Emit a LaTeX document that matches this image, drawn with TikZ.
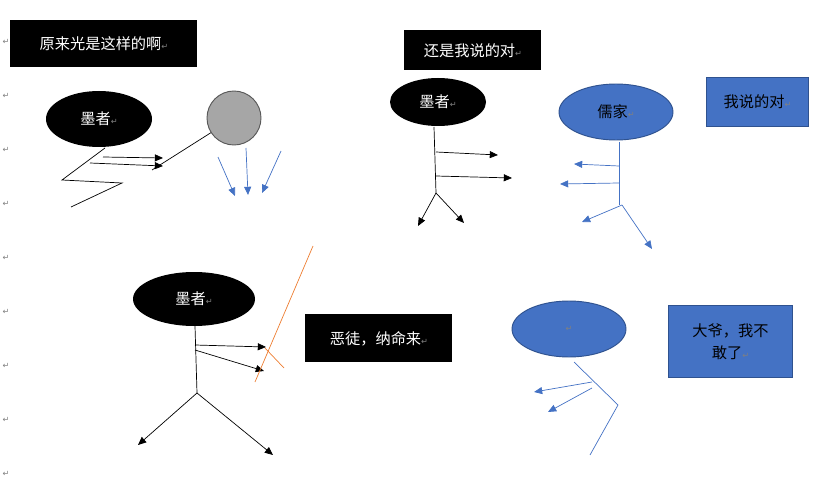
\documentclass[tikz,border=0pt]{standalone}
\usepackage{fontspec}
\setmainfont{Noto Sans CJK SC}
\newfontfamily\markfont{DejaVu Sans}
\usetikzlibrary{shapes.geometric}
\usetikzlibrary{arrows.meta}
\definecolor{ppblue}{HTML}{4472C4}
\definecolor{ppdark}{HTML}{2F528F}
\definecolor{ppgray}{HTML}{A6A6A6}
\definecolor{pporange}{HTML}{ED7D31}
\newcommand{\retmark}{{\markfont\color{gray}\fontsize{7}{8}\selectfont ↵}}
\begin{document}
\begin{tikzpicture}[x=0.03cm,y=-0.03cm,thick,font=\fontsize{13}{19}\selectfont,
    blackbox/.style = {fill=black, text=white, inner sep=0pt, anchor=north west, align=center},
    bluebox/.style = {fill=ppblue, draw=ppdark, inner sep=0pt, anchor=north west, align=center},
    head/.style = {ellipse, fill=black, text=white, inner sep=0pt},
    bluehead/.style = {ellipse, fill=ppblue, draw=ppdark, inner sep=0pt},
    arr/.style = {-{Triangle[length=7pt,width=6pt]}, black, line width=0.6pt},
    barr/.style = {-{Triangle[length=7pt,width=6pt]}, ppblue, line width=0.6pt},
    limb/.style = {black, line width=0.6pt},
    blimb/.style = {ppblue, line width=0.6pt}]
    \useasboundingbox (0,0) rectangle (835,481);
    % margin marks
    \foreach \y in {42,96,150,204,258,312,366,420,474}
        \node at (6,\y) {\retmark};

    % top left
    \node[blackbox, minimum width=187*0.03cm, minimum height=47*0.03cm] (t1) at (10,20) {原来光是这样的啊\retmark};
    \node[head, minimum width=106*0.03cm, minimum height=56*0.03cm] (h1) at (99,119) {墨者\retmark};
    \draw[limb] (105,148) -- (62,180) -- (122,183) -- (71,207);
    \draw[arr] (103,157) -- (163,158);
    \draw[arr] (90,163) -- (163,166);
    \draw[limb] (152,170) -- (212,132);
    \node[circle, fill=ppgray, draw=gray!70!black, minimum size=54*0.03cm] (sun) at (234,118) {};
    \draw[barr] (218,157) -- (235,196);
    \draw[barr] (246,148) -- (248,195);
    \draw[barr] (281,151) -- (262,193);

    % top middle
    \node[blackbox, minimum width=137*0.03cm, minimum height=40*0.03cm] (t2) at (404,30) {还是我说的对\retmark};
    \node[head, minimum width=96*0.03cm, minimum height=48*0.03cm] (h2) at (438,102) {墨者\retmark};
    \draw[limb] (434,127) -- (436,193);
    \draw[arr] (436,152) -- (498,155);
    \draw[arr] (436,176) -- (512,178);
    \draw[arr] (436,193) -- (418,226);
    \draw[arr] (436,193) -- (464,223);

    % top right
    \node[bluehead, minimum width=114*0.03cm, minimum height=56*0.03cm] (h3) at (616,112) {儒家\retmark};
    \node[bluebox, minimum width=102*0.03cm, minimum height=49*0.03cm] (t3) at (706,77) {我说的对\retmark};
    \draw[blimb] (619,142) -- (619,205);
    \draw[barr] (619,166) -- (574,164);
    \draw[barr] (619,183) -- (560,184);
    \draw[barr] (622,205) -- (582,222);
    \draw[barr] (622,205) -- (652,249);

    % bottom left
    \node[head, minimum width=122*0.03cm, minimum height=54*0.03cm] (h4) at (194,299) {墨者\retmark};
    \draw[limb] (195,326) -- (197,393);
    \draw[arr] (195,345) -- (266,347);
    \draw[arr] (195,350) -- (264,371);
    \draw[arr] (197,393) -- (138,445);
    \draw[arr] (197,393) -- (273,455);
    \draw[pporange, line width=0.6pt] (313,246) -- (255,382);
    \draw[pporange, line width=0.6pt] (265,348) -- (284,368);
    \node[blackbox, minimum width=147*0.03cm, minimum height=48*0.03cm] (t4) at (305,314) {恶徒，纳命来\retmark};

    % bottom right
    \node[bluehead, minimum width=114*0.03cm, minimum height=56*0.03cm] (h5) at (569,329) {\retmark};
    \node[bluebox, minimum width=124*0.03cm, minimum height=72*0.03cm] (t5) at (668,305) {大爷，我不\\敢了\retmark};
    \draw[blimb] (574,362) -- (618,405) -- (590,455);
    \draw[barr] (592,382) -- (534,392);
    \draw[barr] (592,388) -- (548,412);
\end{tikzpicture}
\end{document}
